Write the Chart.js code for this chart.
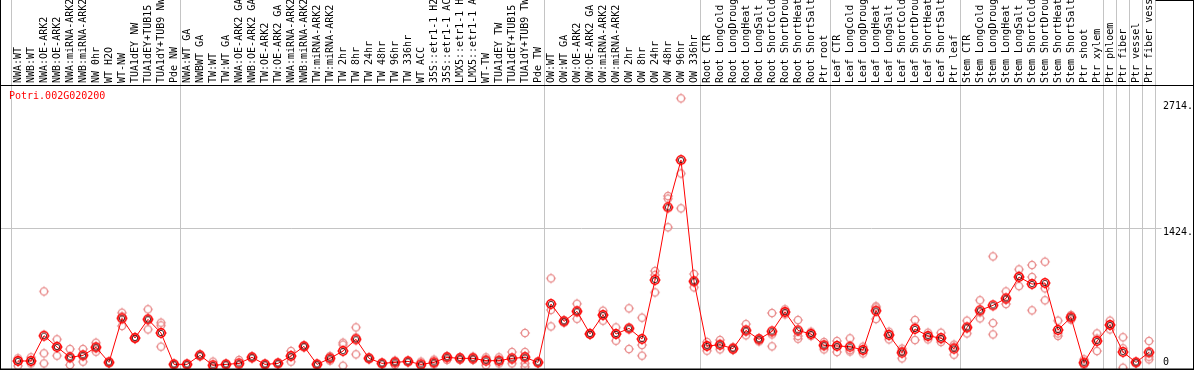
<!DOCTYPE html>
<html>
<head>
<meta charset="utf-8">
<script src="https://cdn.jsdelivr.net/npm/chart.js@4.4.1/dist/chart.umd.min.js"></script>
<style>
  html, body { margin: 0; padding: 0; background: #fff; }
  #wrap { width: 1194px; height: 370px; }
</style>
</head>
<body>
<div id="wrap"><canvas id="chart" width="1194" height="370"></canvas></div>
<script>
const geneName = 'Potri.002G020200';

const categories = [
  'NWA:WT', 'NWB:WT', 'NWA:OE-ARK2', 'NWB:OE-ARK2', 'NWA:miRNA-ARK2', 'NWB:miRNA-ARK2',
  'NW 0hr', 'WT H2O', 'WT-NW', 'TUA1dEY NW', 'TUA1dEY+TUB15', 'TUA1dY+TUB9 NW', 'Pde NW',
  'NWA:WT GA', 'NWBWT GA', 'TW:WT', 'TW:WT GA', 'NWA:OE-ARK2 GA', 'NWB:OE-ARK2 GA',
  'TW:OE-ARK2', 'TW:OE-ARK2 GA', 'NWA:miRNA-ARK2', 'NWB:miRNA-ARK2', 'TW:miRNA-ARK2',
  'TW:miRNA-ARK2', 'TW 2hr', 'TW 8hr', 'TW 24hr', 'TW 48hr', 'TW 96hr', 'TW 336hr', 'WT ACC',
  '35S::etr1-1 H2O', '35S::etr1-1 ACC', 'LMX5::etr1-1 H2O', 'LMX5::etr1-1 ACC', 'WT-TW',
  'TUA1dEY TW', 'TUA1dEY+TUB15', 'TUA1dY+TUB9 TW', 'Pde TW',
  'OW:WT', 'OW:WT GA', 'OW:OE-ARK2', 'OW:OE-ARK2 GA', 'OW:miRNA-ARK2', 'OW:miRNA-ARK2',
  'OW 2hr', 'OW 8hr', 'OW 24hr', 'OW 48hr', 'OW 96hr', 'OW 336hr',
  'Root CTR', 'Root LongCold', 'Root LongDrought', 'Root LongHeat', 'Root LongSalt',
  'Root ShortCold', 'Root ShortDrought', 'Root ShortHeat', 'Root ShortSalt', 'Ptr root',
  'Leaf CTR', 'Leaf LongCold', 'Leaf LongDrought', 'Leaf LongHeat', 'Leaf LongSalt',
  'Leaf ShortCold', 'Leaf ShortDrought', 'Leaf ShortHeat', 'Leaf ShortSalt', 'Ptr leaf',
  'Stem CTR', 'Stem LongCold', 'Stem LongDrought', 'Stem LongHeat', 'Stem LongSalt',
  'Stem ShortCold', 'Stem ShortDrought', 'Stem ShortHeat', 'Stem ShortSalt', 'Ptr shoot',
  'Ptr xylem', 'Ptr phloem', 'Ptr fiber', 'Ptr vessel', 'Ptr fiber vessel'
];

// index of the first category of each block (last entry closes the final block)
const groupStarts = [0, 13, 41, 53, 63, 73, 84, 85, 86, 87, 88];

const meanValues = [
  95, 95, 347, 234, 131, 151, 231, 81, 520, 324, 510, 374, 61,
  61, 151, 52, 61, 71, 131, 61, 71, 144, 241, 61, 121, 194, 311, 121, 71, 81, 91, 61, 81, 131,
  121, 121, 98, 98, 121, 131, 81,
  663, 490, 590, 365, 553, 364, 420, 314, 902, 1627, 2098, 889,
  244, 257, 218, 400, 311, 390, 583, 400, 364, 251,
  244, 238, 204, 596, 354, 178, 414, 344, 324, 218,
  430, 600, 650, 719, 932, 862, 872, 404, 530, 78, 294,
  454, 184, 81, 181
];

const replicateValues = [
  [121, 95, 48], [131, 88, 71], [789, 171, 71], [311, 244, 148], [214, 131, 55], [214, 151, 88],
  [277, 231, 188], [88, 81, 75], [576, 540, 444], [331, 324, 317], [610, 510, 410], [477, 450, 238],
  [65, 61, 58],
  [64, 61, 58], [158, 151, 144], [88, 45, 25], [65, 61, 58], [105, 55, 55], [138, 131, 124],
  [65, 61, 58], [75, 71, 68], [194, 151, 88], [248, 241, 234], [65, 61, 58], [144, 121, 98],
  [277, 258, 48], [430, 330, 161], [128, 121, 115], [75, 71, 68], [98, 88, 55], [95, 91, 88],
  [88, 50, 45], [108, 75, 61], [144, 131, 105], [135, 121, 105], [138, 121, 105], [131, 111, 52],
  [131, 98, 71], [184, 108, 71], [374, 184, 144, 71, 38], [88, 81, 75],
  [919, 604, 440], [500, 490, 480], [666, 590, 516], [370, 364, 358], [596, 553, 497],
  [430, 364, 297], [620, 420, 214], [527, 254, 148], [992, 952, 779], [1740, 1714, 1428],
  [2714, 1965, 1617], [962, 889, 829],
  [284, 244, 198], [304, 254, 211], [231, 218, 204], [463, 390, 351], [324, 311, 290],
  [573, 360, 241], [610, 583, 560], [503, 344, 317], [387, 364, 344], [284, 251, 211],
  [294, 254, 184], [321, 204, 190], [238, 204, 171], [640, 629, 513], [387, 364, 311],
  [218, 195, 121], [503, 435, 304], [377, 344, 311], [377, 311, 284], [237, 258, 158],
  [497, 423, 370], [700, 580, 520], [1138, 473, 360], [789, 705, 663], [1008, 945, 842],
  [1052, 932, 600], [1085, 819, 700], [497, 370, 345], [553, 530, 507], [111, 68, 55],
  [370, 318, 194],
  [497, 454, 410], [331, 221, 28], [85, 81, 78], [294, 138, 111]
];

const yTickValues = [0, 1424, 2714];
const yTickLabels = ['0', '1424.', '2714.'];
const yGridValues = [1424];

const monoFont = "10px 'DejaVu Sans Mono', monospace";
const separatorColor = '#c4c4c4';

const makeMarker = (ringColor, ringRadius, ringWidth, innerColor) => {
  const size = 14;
  const c = document.createElement('canvas');
  c.width = size;
  c.height = size;
  const g = c.getContext('2d');
  const m = size / 2;
  g.strokeStyle = ringColor;
  g.lineWidth = ringWidth;
  g.beginPath();
  g.arc(m, m, ringRadius, 0, Math.PI * 2);
  g.stroke();
  g.lineWidth = 1;
  g.beginPath();
  g.moveTo(m, m - ringRadius - 1.5); g.lineTo(m, m - ringRadius);
  g.moveTo(m, m + ringRadius); g.lineTo(m, m + ringRadius + 1.5);
  g.moveTo(m - ringRadius - 1.5, m); g.lineTo(m - ringRadius, m);
  g.moveTo(m + ringRadius, m); g.lineTo(m + ringRadius + 1.5, m);
  g.stroke();
  if (innerColor) {
    g.strokeStyle = innerColor;
    g.lineWidth = 0.8;
    g.beginPath();
    g.arc(m, m, ringRadius - 1.5, 0, Math.PI * 2);
    g.stroke();
  }
  return c;
};

const meanMarker = makeMarker('#ff0000', 4.2, 1.6, '#300000');
const repMarker = makeMarker('#e98f8f', 3.6, 1.4, null);

const maxReps = Math.max(...replicateValues.map((r) => r.length));
const repDatasets = [];
for (let k = 0; k < maxReps; k++) {
  repDatasets.push({
    label: `rep${k + 1}`,
    data: replicateValues.map((r) => (r[k] === undefined ? null : r[k])),
    showLine: false,
    pointStyle: repMarker,
    pointRadius: 4,
    order: 2,
  });
}

const framePlugin = {
  id: 'frame',
  beforeDatasetsDraw(chart) {
    const { ctx, chartArea } = chart;
    const x = chart.scales.x;
    const y = chart.scales.y;
    const half = (x.getPixelForValue(1) - x.getPixelForValue(0)) / 2;
    ctx.save();
    ctx.strokeStyle = separatorColor;
    ctx.lineWidth = 1;
    groupStarts.forEach((idx) => {
      const px = Math.round(x.getPixelForValue(idx) - half) - 0.5;
      ctx.beginPath();
      ctx.moveTo(px, 0);
      ctx.lineTo(px, chartArea.bottom);
      ctx.stroke();
    });
    yGridValues.forEach((v) => {
      const py = Math.round(y.getPixelForValue(v)) + 0.5;
      ctx.beginPath();
      ctx.moveTo(1, py);
      ctx.lineTo(chartArea.right + 6, py);
      ctx.stroke();
    });
    ctx.restore();
  },
  afterDraw(chart) {
    const { ctx, chartArea, width } = chart;
    const x = chart.scales.x;
    const y = chart.scales.y;
    ctx.save();
    ctx.fillStyle = '#000';
    // frame lines
    ctx.fillRect(0, 0, 1, chart.height);
    ctx.fillRect(width - 1, 0, 1, chart.height);
    ctx.fillRect(0, chartArea.top, width, 1);
    ctx.fillRect(0, chartArea.bottom - 0.5, width, 1.5);
    ctx.fillRect(chartArea.right, 0, width - chartArea.right, 1);

    // category labels, reading bottom to top
    ctx.font = monoFont;
    ctx.textAlign = 'left';
    ctx.textBaseline = 'middle';
    categories.forEach((label, i) => {
      ctx.save();
      ctx.translate(x.getPixelForValue(i) + 0.5, chartArea.top - 2);
      ctx.rotate(-Math.PI / 2);
      ctx.fillText(label, 0, 0);
      ctx.restore();
    });

    // value labels on the right
    ctx.textBaseline = 'top';
    yTickValues.forEach((v, i) => {
      const py = Math.min(Math.max(y.getPixelForValue(v), chartArea.top + 16), chartArea.bottom - 12);
      ctx.fillText(yTickLabels[i], chartArea.right + 7.5, py);
    });

    ctx.fillStyle = '#ff0000';
    ctx.fillText(geneName, 9, chartArea.top + 6);
    ctx.restore();
  },
};

new Chart(document.getElementById('chart'), {
  type: 'line',
  data: {
    labels: categories,
    datasets: [
      {
        label: geneName,
        data: meanValues,
        borderColor: '#ff0000',
        borderWidth: 1,
        tension: 0,
        pointStyle: meanMarker,
        pointRadius: 5,
        order: 1,
      },
      ...repDatasets,
    ],
  },
  options: {
    responsive: false,
    animation: false,
    devicePixelRatio: 1,
    layout: { autoPadding: false, padding: { left: 11.5, right: 38.5, top: 85, bottom: 1 } },
    plugins: {
      legend: { display: false },
      tooltip: { enabled: false },
    },
    scales: {
      x: { type: 'category', offset: true, display: false },
      y: { display: false, min: 15, max: 2847 },
    },
  },
  plugins: [framePlugin],
});
</script>
</body>
</html>
